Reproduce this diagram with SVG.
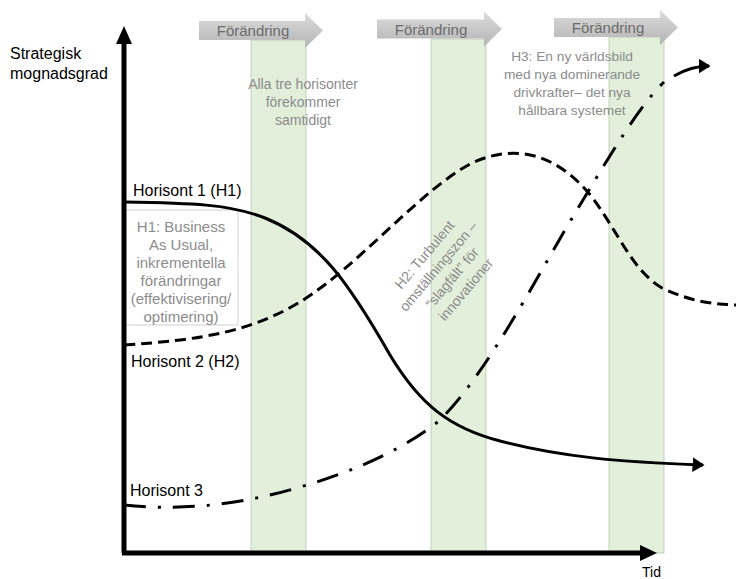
<svg xmlns="http://www.w3.org/2000/svg" width="736" height="579" viewBox="0 0 736 579">
<defs>
<linearGradient id="ag" x1="0" y1="0" x2="0" y2="1">
<stop offset="0" stop-color="#dcdcdc"/>
<stop offset="1" stop-color="#b4b4b4"/>
</linearGradient>
<marker id="ah" markerWidth="5" markerHeight="5" refX="3.5" refY="2.5" orient="auto" markerUnits="strokeWidth">
<path d="M0,0 L4,2.5 L0,5 Z" fill="#000"/>
</marker>
</defs>
<style>
.band{fill:#e2efda;stroke:#b8c8b0;stroke-width:0.8}
.chg{fill:url(#ag)}
.chgt{font-family:"Liberation Sans",Arial,sans-serif;font-size:15px;fill:#6c6c6c;text-anchor:middle}
.lbl{font-family:"Liberation Sans",Arial,sans-serif;font-size:16px;fill:#000}
.note{font-family:"Liberation Sans",Arial,sans-serif;font-size:14px;fill:#8c8c8c;text-anchor:middle}
.crv{fill:none;stroke:#000;stroke-width:3}
</style>
<g id="bands">
<rect class="band" x="251" y="40" width="55" height="513"/>
<rect class="band" x="431" y="39" width="55" height="514"/>
<rect class="band" x="609" y="37" width="55" height="516"/>
</g>
<g id="change1">
<path class="chg" d="M199,21 H305 V13 L323,30.5 L305,48 V40 H199 Z"/>
<text class="chgt" x="253" y="36">Förändring</text>
</g>
<g id="change2">
<path class="chg" d="M377,19.5 H484 V11.5 L502,29 L484,46.5 V38.5 H377 Z"/>
<text class="chgt" x="431" y="34.5">Förändring</text>
</g>
<g id="change3">
<path class="chg" d="M554,18 H660 V10 L678,27.5 L660,45 V37 H554 Z"/>
<text class="chgt" x="608" y="33">Förändring</text>
</g>
<g id="h1box">
<rect x="124" y="210" width="114" height="115" fill="#fff" stroke="#d0d0d0" stroke-width="1"/>
<text class="note" x="181" y="232" style="font-size:15px">H1: Business</text>
<text class="note" x="181" y="250" style="font-size:15px">As Usual,</text>
<text class="note" x="181" y="268" style="font-size:15px">inkrementella</text>
<text class="note" x="181" y="286" style="font-size:15px">förändringar</text>
<text class="note" x="181" y="304" style="font-size:15px">(effektivisering/</text>
<text class="note" x="181" y="322" style="font-size:15px">optimering)</text>
</g>
<g id="connectors">
<path class="crv" d="M124,202 C190,203 230,204 265,218 C320,240 350,285 390,355 C420,405 450,428 500,441 C560,457 620,462 703,465" marker-end="url(#ah)"/>
<path class="crv" stroke-dasharray="11,6" d="M124,345 C200,340 250,332 300,302 C360,265 420,190 472,163 C522,140 562,160 592,197 C620,235 632,270 662,288 C692,302 712,304 736,305"/>
<path class="crv" stroke-dasharray="22,12,3,12" d="M124,505 C170,510 230,508 300,487 C360,470 410,445 440,420 C490,370 540,270 580,205 C610,155 640,105 664,82"/>
<path class="crv" d="M674,76 C686,69 697,66 709,66" marker-end="url(#ah)"/>
</g>
<g id="axes">
<line x1="124" y1="553" x2="124" y2="42" stroke="#000" stroke-width="5"/>
<path d="M116,44 L124,26 L132,44 Z" fill="#000"/>
<line x1="122" y1="553" x2="640" y2="553" stroke="#000" stroke-width="5"/>
<path d="M640,545 L657,553 L640,561 Z" fill="#000"/>
</g>
<g id="labels">
<text class="lbl" x="10" y="59">Strategisk</text>
<text class="lbl" x="10" y="79">mognadsgrad</text>
<text class="lbl" x="133" y="196">Horisont 1 (H1)</text>
<text class="lbl" x="131" y="367">Horisont 2 (H2)</text>
<text class="lbl" x="130" y="496">Horisont 3</text>
<text class="lbl" x="642" y="577" style="font-size:14px">Tid</text>
</g>
<g id="notes">
<text class="note" x="303" y="89">Alla tre horisonter</text>
<text class="note" x="303" y="107">förekommer</text>
<text class="note" x="303" y="125">samtidigt</text>
<text class="note" x="572" y="61" style="font-size:13.7px">H3: En ny världsbild</text>
<text class="note" x="572" y="79" style="font-size:13.7px">med nya dominerande</text>
<text class="note" x="572" y="97" style="font-size:13.7px">drivkrafter– det nya</text>
<text class="note" x="572" y="115" style="font-size:13.7px">hållbara systemet</text>
<g transform="translate(445,272) rotate(-50)">
<text class="note" x="0" y="-22">H2: Turbulent</text>
<text class="note" x="0" y="-4">omställningszon –</text>
<text class="note" x="0" y="14">“slagfält” för</text>
<text class="note" x="0" y="32">innovationer</text>
</g>
</g>
</svg>
